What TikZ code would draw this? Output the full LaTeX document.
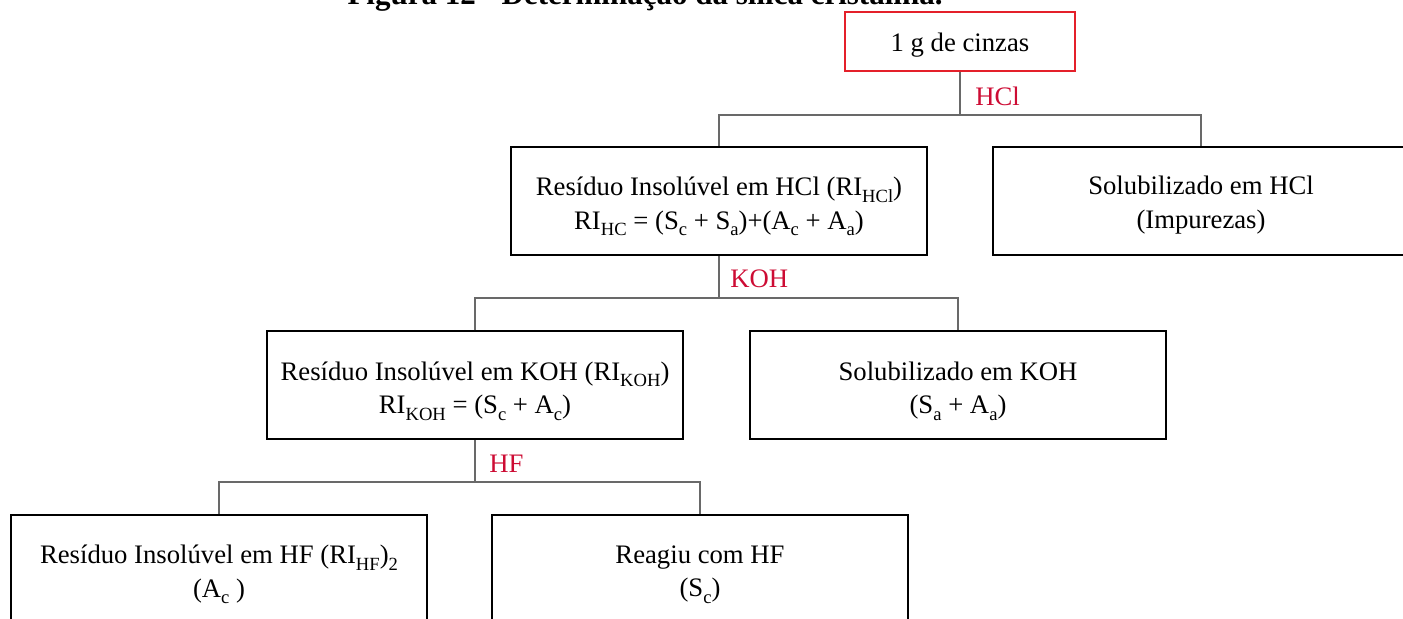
\documentclass[tikz,border=0pt]{standalone}
\usepackage{fontspec}
\setmainfont{Liberation Serif}
\definecolor{boxred}{RGB}{228,32,42}
\definecolor{labred}{RGB}{205,12,52}
\definecolor{linegray}{RGB}{105,105,105}
\newcommand\lowx[1]{\raisebox{-0.24em}{\fontsize{9.3pt}{10pt}\selectfont #1}}
\begin{document}
\begin{tikzpicture}[x=0.5pt,y=-0.5pt,
  every node/.style={font=\fontsize{13.35pt}{16.8pt}\selectfont},
  stepbox/.style={draw=black,line width=1pt,minimum width=208pt,minimum height=54pt,inner sep=0pt,fill=white},
  boxtext/.style={align=center,inner sep=0pt,yshift=-2.8pt},
  topbox/.style={draw=boxred,line width=0.8pt,minimum width=115pt,minimum height=29.5pt,inner sep=0pt},
  conn/.style={draw=linegray,line width=0.75pt},
  reag/.style={text=labred,anchor=west,inner sep=0pt}]
\useasboundingbox (0,0) rectangle (1403,619);
\node[anchor=base,font=\bfseries\fontsize{15.5pt}{17pt}\selectfont] (title) at (645,5) {Figura 12 - Determinação da sílica cristalina.};
\node[topbox] (top) at (960,41.5) {};
\node[boxtext,yshift=0.8pt] (top-t) at (top.center) {1 g de cinzas};
\node[stepbox] (rihcl) at (719,201) {};
\node[boxtext] (rihcl-t) at (rihcl.center) {Resíduo Insolúvel em HCl (RI\lowx{HCl})\\RI\lowx{HC} = (S\lowx{c} + S\lowx{a})+(A\lowx{c} + A\lowx{a})};
\node[stepbox] (solhcl) at (1201,201) {};
\node[boxtext,yshift=0.8pt] (solhcl-t) at (solhcl.center) {Solubilizado em HCl\\(Impurezas)};
\node[stepbox] (rikoh) at (475,385.5) {};
\node[boxtext] (rikoh-t) at (rikoh.center) {Resíduo Insolúvel em KOH (RI\lowx{KOH})\\RI\lowx{KOH} = (S\lowx{c} + A\lowx{c})};
\node[stepbox] (solkoh) at (958,385.5) {};
\node[boxtext] (solkoh-t) at (solkoh.center) {Solubilizado em KOH\\(S\lowx{a} + A\lowx{a})};
\node[stepbox] (rihf) at (219,569) {};
\node[boxtext] (rihf-t) at (rihf.center) {Resíduo Insolúvel em HF (RI\lowx{HF})\lowx{2}\\(A\lowx{c} )};
\node[stepbox] (reagiu) at (700,569) {};
\node[boxtext] (reagiu-t) at (reagiu.center) {Reagiu com HF\\(S\lowx{c})};
\coordinate (j1) at (960,115);
\coordinate (j2) at (719,298);
\coordinate (j3) at (475,482);
\draw[conn] (top.south) -- (j1);
\draw[conn] (rihcl.north) -- (rihcl.north |- j1) -- (solhcl.north |- j1) -- (solhcl.north);
\draw[conn] (rihcl.south) -- (j2);
\draw[conn] (rikoh.north) -- (rikoh.north |- j2) -- (solkoh.north |- j2) -- (solkoh.north);
\draw[conn] (rikoh.south) -- (j3);
\draw[conn] (rihf.north) -- (rihf.north |- j3) -- (reagiu.north |- j3) -- (reagiu.north);
\node[reag] (lhcl) at (975,96) {HCl};
\node[reag] (lkoh) at (730,279) {KOH};
\node[reag] (lhf) at (489,464) {HF};
\end{tikzpicture}
\end{document}
